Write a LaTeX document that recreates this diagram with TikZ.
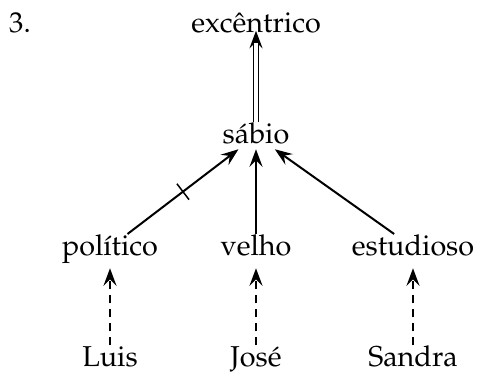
\documentclass[tikz,border=0pt]{standalone}
\usepackage[T1]{fontenc}
\usepackage{mathpazo}
\usetikzlibrary{positioning,decorations.markings,arrows.meta}

\begin{document}
\begin{tikzpicture}[->,>={Stealth[length=7pt,width=5.2pt,inset=2.6pt]},auto,
      x=0.4pt,y=0.4pt,node distance=44.6pt,
      thick,word/.style={font=\fontsize{11.5}{14}\selectfont,text height=1.6ex,
      text depth=.3ex,inner sep=.5pt},
      inst/.style={dash pattern=on 3.2pt off 2.4pt,shorten >=3pt},
      strict/.style={-,double,line width=.55pt,double distance=1.6pt,shorten >=2pt},
      negated/.style={postaction={decorate,decoration={markings,
        mark=at position .5 with {\draw[-,semithick] (0,-4pt) -- (0,4pt);}}}}]
    \useasboundingbox (0,0) rectangle (480,-374);
    \node[word,anchor=base west] (num) at (7,-32) {3.};
    \node[word,anchor=base] (velho) at (256,-255) {velho};
    \node[word] (sabio) [above of=velho] {s\'abio};
    \node[word] (exc) [above of=sabio] {exc\^entrico};
    \node[word] (pol) [left of=velho,node distance=58.4pt] {pol\'{\i}tico};
    \node[word] (estud) [right of=velho,node distance=62.8pt] {estudioso};
    \node[word] (luis) [below of=pol] {Luis};
    \node[word] (jose) [below of=velho] {Jos\'e};
    \node[word] (sandra) [below of=estud] {Sandra};
    \path
    (sabio) edge [shorten >=-2.8pt] (exc)
    (sabio) edge [strict] (exc)
    (pol) edge [negated] (sabio)
    (velho) edge (sabio)
    (estud) edge (sabio)
    (luis) edge [inst] (pol)
    (jose) edge [inst] (velho)
    (sandra) edge [inst] (estud)
    ;
  \end{tikzpicture}
\end{document}
